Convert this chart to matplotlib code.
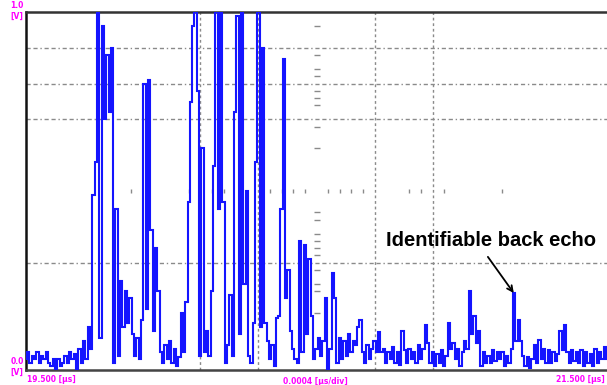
import numpy as np
import matplotlib
matplotlib.use("Agg")
import matplotlib.pyplot as plt
from matplotlib import font_manager

# ---- data (volts, sampled evenly from 19.5 us to 21.5 us) ----
t_start, t_end = 19.5, 21.5
amplitude = [
    0.03, 0.05, 0.02, 0.04, 0.03, 0.05, 0.02, 0.04, 0.03, 0.05, 0.02,
    0.01, 0.03, 0.0,
    0.03, 0.01, 0.02,
    0.04, 0.02, 0.05, 0.03, 0.045,
    0.0, 0.06,
    0.02, 0.08, 0.03,
    0.12, 0.06,
    0.49, 0.58, 1.0,
    0.09, 0.96, 0.70, 0.88, 0.72, 0.90, 0.02, 0.45, 0.04,
    0.25, 0.12, 0.22, 0.13, 0.20, 0.10,
    0.04, 0.09, 0.03,
    0.14, 0.80, 0.17, 0.81, 0.39, 0.11, 0.34, 0.22,
    0.05, 0.02, 0.07,
    0.03, 0.08, 0.02, 0.06,
    0.01, 0.035,
    0.16, 0.05,
    0.19,
    0.47, 0.75, 0.96, 1.0, 0.78, 0.04, 0.62, 0.05,
    0.11, 0.04,
    0.22, 0.57, 1.0, 0.45, 1.0,
    0.47, 0.02, 0.07,
    0.21, 0.04,
    0.72, 0.99, 0.10, 1.0, 0.24, 0.50, 0.04,
    0.02,
    0.13, 0.58, 1.0, 0.12, 0.90, 0.13,
    0.08, 0.03, 0.07,
    0.01, 0.145,
    0.15, 0.45, 0.87, 0.20, 0.28, 0.11,
    0.06, 0.03,
    0.02, 0.36, 0.05, 0.35, 0.10, 0.31, 0.15,
    0.03, 0.06,
    0.09, 0.04, 0.08,
    0.20, 0.0,
    0.06, 0.27, 0.20,
    0.02, 0.09, 0.03,
    0.08, 0.04, 0.10, 0.05, 0.08,
    0.07, 0.12, 0.14, 0.05,
    0.02, 0.07, 0.03, 0.06,
    0.08, 0.05,
    0.105, 0.05,
    0.06, 0.02, 0.05, 0.03, 0.065, 0.02, 0.05, 0.015,
    0.11, 0.055,
    0.02, 0.06, 0.03, 0.05, 0.02, 0.07, 0.03, 0.06,
    0.125, 0.075,
    0.02, 0.05, 0.01, 0.045, 0.02, 0.055, 0.01, 0.04,
    0.13, 0.06,
    0.075, 0.03,
    0.06, 0.01, 0.05,
    0.08,
    0.06, 0.22, 0.10,
    0.15, 0.075, 0.11,
    0.01, 0.05, 0.02, 0.04,
    0.02, 0.055, 0.025, 0.05, 0.03,
    0.05, 0.01, 0.04, 0.02,
    0.06,
    0.215, 0.08,
    0.14, 0.08,
    0.04, 0.01, 0.035, 0.005, 0.03,
    0.07, 0.02, 0.085, 0.03, 0.06, 0.02,
    0.055, 0.02, 0.05, 0.025, 0.045,
    0.11, 0.055,
    0.125, 0.05,
    0.02, 0.055, 0.025, 0.05, 0.02,
    0.055, 0.01, 0.05, 0.02, 0.045, 0.01,
    0.06, 0.02, 0.05, 0.03, 0.065, 0.03,
]
time_us = np.linspace(t_start, t_end, len(amplitude))

y_grid = [0.9, 0.8, 0.7, 0.3]
x_grid = [20.1, 20.3, 20.7, 20.9]
center_t = 20.5
center_ticks = [0.96, 0.88, 0.84, 0.82, 0.78, 0.76, 0.74, 0.68, 0.62, 0.44,
                0.42, 0.38, 0.36, 0.34, 0.32, 0.28, 0.24, 0.22, 0.16]
mid_row_idx = [9, 14, 16, 17, 21, 22, 23, 24, 26, 27, 28, 29, 33, 34, 36, 41]

label_top = "1.0"
label_bottom = "0.0"
label_unit = "[V]"
label_left = "19.500 [µs]"
label_mid = "0.0004 [µs/div]"
label_right = "21.500 [µs]"
annotation = "Identifiable back echo"
echo_t, echo_v = 21.179, 0.215

# ---- figure ----
fig = plt.figure(figsize=(6.07, 3.85), dpi=100)
ax = fig.add_axes([26 / 607, 1 - 370 / 385, 1 - 26 / 607, (370 - 12) / 385])
ax.set_xlim(t_start, t_end)
ax.set_ylim(0, 1.0)

grid_col = "#8a8a8a"
for yv in y_grid:
    ax.axhline(yv, color=grid_col, lw=1.0, ls=(0, (3, 2, 3, 2, 1, 2)), zorder=1)
for xv in x_grid:
    ax.axvline(xv, color=grid_col, lw=1.0, ls=(0, (2, 2)), zorder=1)
# center axis with small tick marks
ax.plot([center_t] * len(center_ticks), center_ticks, ls="none", marker="_",
        ms=4, mew=1.0, color=grid_col, zorder=1)
mid_x = [t_start + 0.04 * k for k in mid_row_idx]
ax.plot(mid_x, [0.5] * len(mid_x), ls="none", marker="|", ms=3, mew=1.0,
        color=grid_col, zorder=1)

ax.plot(time_us, amplitude, color="#1414ff", lw=1.5, zorder=3,
        drawstyle="steps-mid", solid_joinstyle="miter")

for s in ["left", "top", "bottom"]:
    ax.spines[s].set_linewidth(1.8)
ax.spines["left"].set_color("#111111")
ax.spines["top"].set_color("#333333")
ax.spines["bottom"].set_color("#444444")
ax.spines["right"].set_visible(False)
ax.set_xticks([])
ax.set_yticks([])

mag = "#ff00ff"
fs = 5.5
fig.text(17 / 607, 1 - 6 / 385, label_top, color=mag, fontsize=fs, ha="center", va="center", fontweight="bold")
fig.text(17 / 607, 1 - 16 / 385, label_unit, color=mag, fontsize=fs, ha="center", va="center", fontweight="bold")
fig.text(17 / 607, 1 - 362 / 385, label_bottom, color=mag, fontsize=fs, ha="center", va="center", fontweight="bold")
fig.text(17 / 607, 1 - 372 / 385, label_unit, color=mag, fontsize=fs, ha="center", va="center", fontweight="bold")
fig.text(27 / 607, 1 - 380 / 385, label_left, color=mag, fontsize=fs, ha="left", va="center", fontweight="bold")
fig.text(315 / 607, 1 - 381 / 385, label_mid, color=mag, fontsize=fs, ha="center", va="center", fontweight="bold")
fig.text(605 / 607, 1 - 379 / 385, label_right, color=mag, fontsize=fs, ha="right", va="center", fontweight="bold")

names = {f.name for f in font_manager.fontManager.ttflist}
fam = "Liberation Sans Narrow" if "Liberation Sans Narrow" in names else "Liberation Sans"
ax.text(21.1, 0.363, annotation, fontsize=14.5, fontweight="bold", family=fam,
        ha="center", va="center", color="black", zorder=5)
ax.annotate("", xy=(echo_t, echo_v), xytext=(21.09, 0.316),
            arrowprops=dict(arrowstyle="->", color="black", lw=1.3,
                            shrinkA=0, shrinkB=0, mutation_scale=10), zorder=5)

fig.savefig("out.png", dpi=100)
